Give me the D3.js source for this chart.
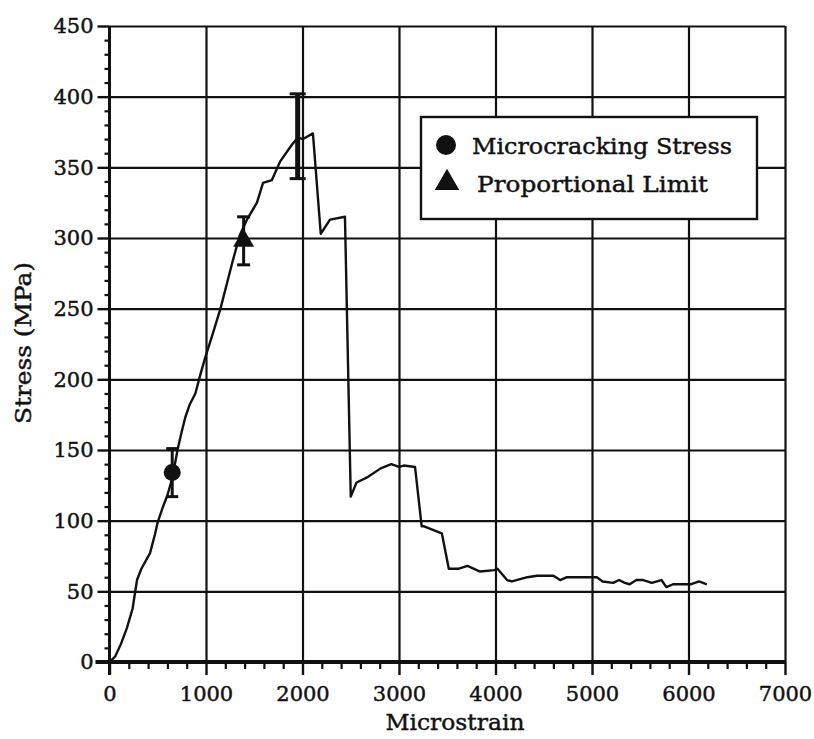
<!DOCTYPE html>
<html>
<head>
<meta charset="utf-8">
<script src="https://cdn.jsdelivr.net/npm/d3@7"></script>
<style>
  html, body { margin: 0; padding: 0; background: #fff; }
  svg { display: block; }
  text { font-family: "DejaVu Serif", "Liberation Serif", serif; fill: #111; stroke: #111; stroke-width: 0.45px; }
</style>
</head>
<body>
<svg id="chart" width="814" height="739"></svg>
<script>
// Stress–strain record (microstrain, MPa)
const strain = [0, 60, 120, 180, 240, 285, 330, 420, 470, 500, 550, 600, 650, 705, 745, 785, 830, 890, 940, 990,
  1060, 1150, 1270, 1350, 1424, 1528, 1591, 1683, 1767, 1890, 1950, 2006, 2108, 2189, 2285, 2440, 2500,
  2560, 2680, 2810, 2920, 3000, 3050, 3166, 3235, 3260, 3443, 3450, 3516, 3620, 3710, 3840, 3990, 4020,
  4120, 4170, 4330, 4430, 4600, 4670, 4740, 5050, 5110, 5220, 5280, 5340, 5390, 5460, 5530, 5620, 5720,
  5770, 5840, 6020, 6110, 6190];
const stress = [0, 4, 13, 24, 38, 58, 66, 77, 90, 99, 109, 118, 130, 150, 162, 173, 182, 190, 203, 215,
  230, 250, 282, 302, 313, 325, 339, 341, 354, 366, 371, 370, 374, 303, 313, 315, 117,
  127, 131, 137, 140, 138, 139, 138, 96, 96, 91, 89, 66, 66, 68, 64, 65, 66,
  58, 57, 60, 61, 61, 58, 60, 60, 57, 56, 58, 56, 55, 58, 58, 56, 58,
  53, 55, 55, 57, 55];

// Mean values with ± spread
const microStrain = [650], microStress = [134], microErr = [17];
const propStrain = [1390], propStress = [298], propErr = [17];
const peakStrain = [1950], peakStress = [372], peakErr = [30];

// Axis ticks
const xTicks = [0, 1000, 2000, 3000, 4000, 5000, 6000, 7000];
const yTicks = [0, 50, 100, 150, 200, 250, 300, 350, 400, 450];
const legendLabels = ["Microcracking Stress", "Proportional Limit"];

const svg = d3.select("#chart");
const plotL = 109.5, plotR = 785, plotT = 26, plotB = 662;
const x = d3.scaleLinear().domain([0, 7000]).range([plotL, plotR]);
const y = d3.scaleLinear().domain([0, 450]).range([plotB, plotT]);
const ink = "#111";

// Grid
const gridX = svg.append("g").attr("transform", `translate(0,${plotB})`)
  .call(d3.axisBottom(x).tickValues(xTicks.slice(1)).tickSize(-(plotB - plotT)).tickFormat(""));
gridX.select(".domain").remove();
gridX.selectAll("line").attr("stroke", ink).attr("stroke-width", 2.2);

const gridY = svg.append("g").attr("transform", `translate(${plotL},0)`)
  .call(d3.axisLeft(y).tickValues(yTicks.slice(1)).tickSize(-(plotR - plotL)).tickFormat(""));
gridY.select(".domain").remove();
gridY.selectAll("line").attr("stroke", ink).attr("stroke-width", 2.2);

// Minor ticks
const xMinor = d3.range(0, 7001, 200).filter(v => v % 1000 !== 0);
const yMinor = d3.range(0, 451, 10).filter(v => v % 50 !== 0);
const mx = svg.append("g").attr("transform", `translate(0,${plotB})`)
  .call(d3.axisBottom(x).tickValues(xMinor).tickSize(7).tickFormat(""));
mx.select(".domain").remove();
mx.selectAll("line").attr("stroke", ink).attr("stroke-width", 2.2);
const my = svg.append("g").attr("transform", `translate(${plotL},0)`)
  .call(d3.axisLeft(y).tickValues(yMinor).tickSize(5).tickFormat(""));
my.select(".domain").remove();
my.selectAll("line").attr("stroke", ink).attr("stroke-width", 2.2);

// Major axes
const ax = svg.append("g").attr("transform", `translate(0,${plotB})`)
  .call(d3.axisBottom(x).tickValues(xTicks).tickSize(13).tickPadding(11).tickFormat(d3.format("d")));
ax.select(".domain").attr("stroke", ink).attr("stroke-width", 4).attr("d", `M${plotL - 14},0H${plotR}`);
ax.selectAll("line").attr("stroke", ink).attr("stroke-width", 2.4);
ax.selectAll("text").attr("font-size", 21).attr("font-family", "DejaVu Serif").attr("fill", ink);

const ay = svg.append("g").attr("transform", `translate(${plotL},0)`)
  .call(d3.axisLeft(y).tickValues(yTicks).tickSize(12).tickPadding(4).tickFormat(d3.format("d")));
ay.select(".domain").attr("stroke", ink).attr("stroke-width", 3).attr("d", `M0,${plotB + 13}V${plotT}`);
ay.selectAll("line").attr("stroke", ink).attr("stroke-width", 2.4);
ay.selectAll("text").attr("font-size", 21).attr("font-family", "DejaVu Serif").attr("fill", ink);

// Axis titles
svg.append("text").attr("x", 455).attr("y", 730).attr("text-anchor", "middle")
  .attr("font-size", 23).attr("textLength", 139).attr("lengthAdjust", "spacingAndGlyphs")
  .text("Microstrain");
svg.append("text").attr("transform", "translate(31,343) rotate(-90)").attr("text-anchor", "middle")
  .attr("font-size", 23).attr("textLength", 162).attr("lengthAdjust", "spacingAndGlyphs")
  .text("Stress (MPa)");

// Curve
const line = d3.line().x((d, i) => x(strain[i])).y(d => y(d));
svg.append("path").datum(stress).attr("d", line)
  .attr("fill", "none").attr("stroke", ink).attr("stroke-width", 2.4).attr("stroke-linejoin", "round");

// Error bars
function errorBar(xs, ys, es, capW, stemW) {
  const g = svg.append("g");
  xs.forEach((xv, i) => {
    const cx = x(xv), y1 = y(ys[i] + es[i]), y2 = y(ys[i] - es[i]);
    g.append("line").attr("x1", cx).attr("x2", cx).attr("y1", y1).attr("y2", y2)
      .attr("stroke", ink).attr("stroke-width", stemW);
    [y1, y2].forEach(yy => g.append("line").attr("x1", cx - capW / 2).attr("x2", cx + capW / 2)
      .attr("y1", yy).attr("y2", yy).attr("stroke", ink).attr("stroke-width", 3));
  });
}
errorBar(microStrain, microStress, microErr, 12, 3);
errorBar(propStrain, propStress, propErr, 13, 3);
errorBar(peakStrain, peakStress, peakErr, 16, 5);

// Markers
svg.selectAll(".micro").data(microStress).enter().append("circle")
  .attr("cx", (d, i) => x(microStrain[i])).attr("cy", d => y(d)).attr("r", 8.5).attr("fill", ink);
const tri = d3.symbol().type(d3.symbolTriangle).size(190);
svg.selectAll(".prop").data(propStress).enter().append("path")
  .attr("d", tri).attr("transform", (d, i) => `translate(${x(propStrain[i])},${y(d)})`).attr("fill", ink);

// Legend
const lg = svg.append("g");
lg.append("rect").attr("x", 421).attr("y", 117).attr("width", 336).attr("height", 102)
  .attr("fill", "#fff").attr("stroke", ink).attr("stroke-width", 2.4);
lg.append("circle").attr("cx", 446).attr("cy", 145).attr("r", 10).attr("fill", ink);
lg.append("path").attr("d", d3.symbol().type(d3.symbolTriangle).size(260))
  .attr("transform", "translate(447,183)").attr("fill", ink);
lg.append("text").attr("x", 472).attr("y", 154).attr("font-size", 23)
  .attr("textLength", 260).attr("lengthAdjust", "spacingAndGlyphs").text(legendLabels[0]);
lg.append("text").attr("x", 477).attr("y", 192).attr("font-size", 23)
  .attr("textLength", 231).attr("lengthAdjust", "spacingAndGlyphs").text(legendLabels[1]);
</script>
</body>
</html>
